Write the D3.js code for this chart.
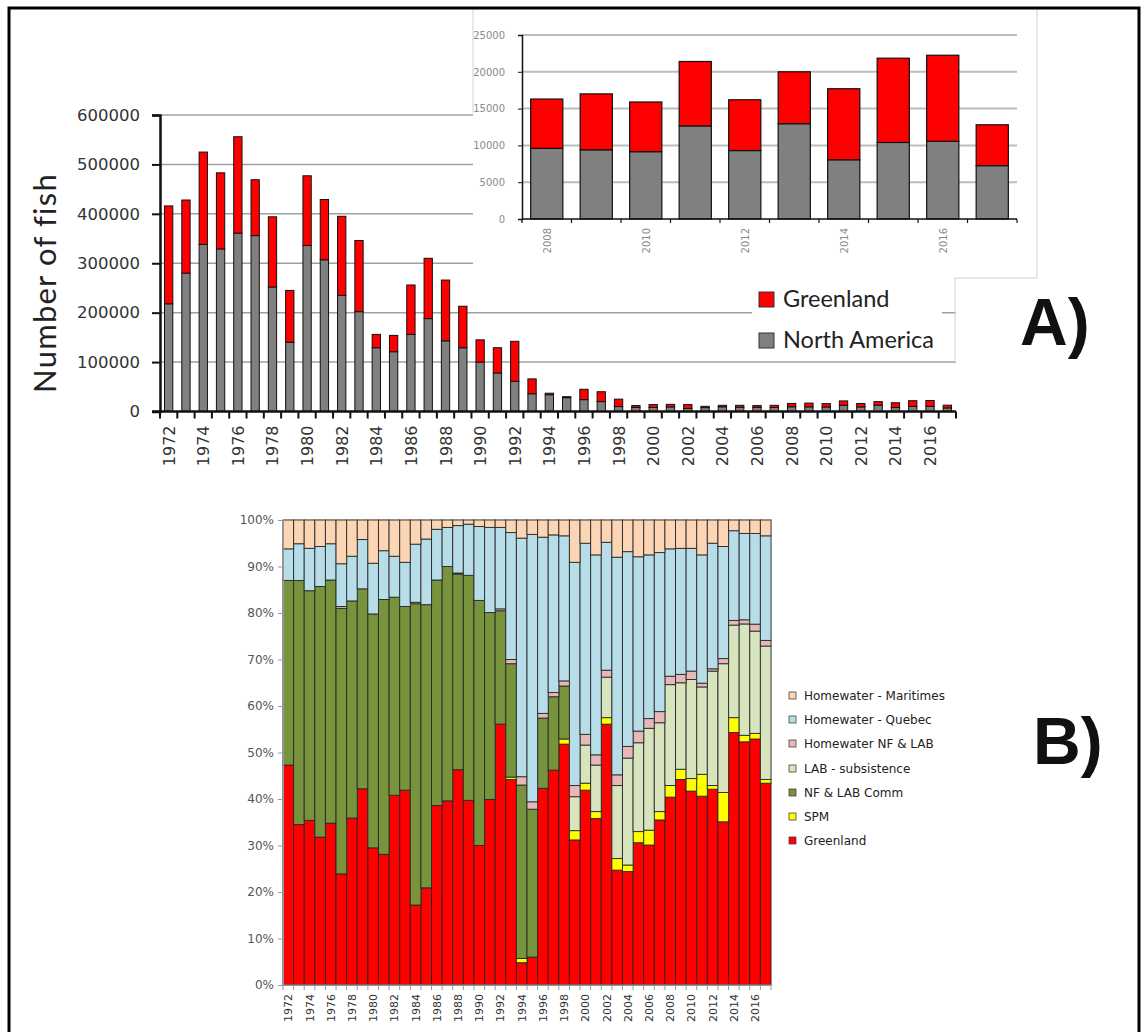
<!DOCTYPE html>
<html><head><meta charset="utf-8">
<script src="https://cdn.jsdelivr.net/npm/d3@7"></script>
<style>body{margin:0;background:#fff}svg{display:block}</style>
</head><body>
<svg id="c" width="1147" height="1032"></svg>
<script>
// ---------- DATA ----------
const years = ["1972","1973","1974","1975","1976","1977","1978","1979","1980","1981","1982","1983","1984","1985","1986","1987","1988","1989","1990","1991","1992","1993","1994","1995","1996","1997","1998","1999","2000","2001","2002","2003","2004","2005","2006","2007","2008","2009","2010","2011","2012","2013","2014","2015","2016","2017"];

// Panel A: number of fish
const northAmerica = [218000,280000,338000,329000,361000,356000,252000,140000,336000,307000,235000,202000,129000,121000,156000,188000,143000,129000,100000,78000,61000,36000,34000,28000,24000,20000,10000,8300,8100,9300,6200,7900,9500,8700,8400,8100,9600,9400,9150,12650,9300,12950,8050,10400,10550,7250];
const greenland = [198000,148000,187000,154000,195000,113000,142000,105000,141000,122000,160000,144000,27000,33000,100000,122000,123000,84000,45000,51000,81000,30000,3000,2000,21000,20000,15000,3700,5900,5200,7800,2600,3000,3800,3600,4400,6700,7600,6750,8750,6900,7050,9650,11450,11700,5550];
const yTicksA = [0,100000,200000,300000,400000,500000,600000];
const yTicksInset = [0,5000,10000,15000,20000,25000];
const insetYears = years.slice(36);
const insetLabelYears = ["2008","2010","2012","2014","2016"];

// Panel B: percentage composition
const pGreenland = [47.3,34.5,35.4,31.8,34.8,23.9,35.9,42.2,29.5,28.1,40.8,41.9,17.2,20.9,38.6,39.6,46.3,39.7,30.0,39.9,56.1,44.2,4.8,6.0,42.3,46.2,51.8,31.2,41.9,35.8,56.1,24.7,24.4,30.6,30.1,35.5,40.4,44.2,41.7,40.6,42.1,35.1,54.3,52.4,52.9,43.4];
const pSPM = [0,0,0,0,0,0,0,0,0,0,0,0,0,0,0,0,0,0,0,0,0,0.5,0.9,0,0,0,1.1,2.0,1.5,1.5,1.4,2.5,1.4,2.4,3.2,1.8,2.5,2.2,2.7,4.7,0.8,6.3,3.2,1.4,1.2,0.8];
const pComm = [39.7,52.5,49.4,53.9,52.3,57.1,46.7,43.0,50.3,54.8,42.6,39.5,64.8,60.9,48.5,50.4,42.1,48.4,52.7,40.2,24.4,24.4,37.3,31.8,15.1,15.8,11.4,0,0,0,0,0,0,0,0,0,0,0,0,0,0,0,0,0,0,0];
const pLabSub = [0,0,0,0,0,0,0,0,0,0,0,0,0,0,0,0,0,0,0,0,0,0,0,0,0,0,0,7.3,8.2,10.0,8.7,15.7,23.0,19.1,21.9,19.1,21.7,18.6,21.3,18.8,24.6,27.7,19.9,24.0,22.0,28.7];
const pHwNfLab = [0,0,0,0,0,0.4,0,0,0,0,0,0,0.3,0,0,0,0.2,0,0,0,0.4,0.9,1.8,1.6,1.0,0.9,1.1,2.4,2.3,2.2,1.5,2.3,2.5,2.5,2.1,2.4,1.8,1.8,1.8,0.8,0.5,1.1,1.0,0.9,1.5,1.2];
const pQuebec = [6.8,7.9,9.1,8.6,7.8,9.2,9.6,10.6,10.9,10.5,8.8,9.5,12.5,14.1,10.9,8.4,10.2,11.0,15.9,18.3,17.5,27.3,51.3,57.5,37.9,33.9,31.2,48.0,41.1,43.0,27.5,46.8,41.9,37.5,35.2,34.2,27.4,27.1,26.4,27.6,27.0,24.1,19.3,18.6,19.5,22.5];
const pMaritimes = [6.2,5.1,6.1,5.7,5.1,9.4,7.8,4.2,9.3,6.6,7.8,9.1,5.2,4.1,2.0,1.6,1.2,0.9,1.4,1.6,1.6,2.7,3.9,3.1,3.7,3.2,3.4,9.1,5.0,7.5,4.8,8.0,6.8,7.9,7.5,7.0,6.2,6.1,6.1,7.5,5.0,5.7,2.3,2.9,2.9,3.4];
const seriesB = ["Greenland","SPM","NF & LAB Comm","LAB - subsistence","Homewater NF & LAB","Homewater - Quebec","Homewater - Maritimes"];
const yTicksB = [0,0.1,0.2,0.3,0.4,0.5,0.6,0.7,0.8,0.9,1.0];

// ---------- DRAW ----------
const svg = d3.select("#c");
svg.append("rect").attr("width",1147).attr("height",1032).attr("fill","#fff");

// ===== Panel A =====
const xA = d3.scaleBand().domain(years).range([160,956]).paddingInner(0.52).paddingOuter(0.26);
const yA = d3.scaleLinear().domain([0,600000]).range([411.5,115]);
const gA = svg.append("g");
gA.selectAll("line.g").data(yTicksA.filter(d=>d>0)).join("line")
  .attr("x1",160).attr("x2",d=>d>=300000?473:956)
  .attr("y1",d=>yA(d)).attr("y2",d=>yA(d))
  .attr("stroke","#a0a0a0").attr("stroke-width",1.5);

gA.append("rect").attr("x",752).attr("y",284).attr("width",190).attr("height",72).attr("fill","#fff");
gA.append("line").attr("x1",955).attr("x2",955).attr("y1",278).attr("y2",362).attr("stroke","#d0d0d0");

const dataA = years.map((y,i)=>({year:y, na:northAmerica[i], gr:greenland[i]}));
const stackA = d3.stack().keys(["na","gr"])(dataA);
const colA = {na:"#808080", gr:"#ff0000"};
gA.selectAll("g.s").data(stackA).join("g").attr("fill",d=>colA[d.key])
  .selectAll("rect").data(d=>d).join("rect")
  .attr("x",d=>xA(d.data.year)).attr("width",xA.bandwidth())
  .attr("y",d=>yA(d[1])).attr("height",d=>yA(d[0])-yA(d[1]))
  .attr("stroke","#111").attr("stroke-width",1);

const axYA = gA.append("g").attr("transform","translate(160,0)")
  .call(d3.axisLeft(yA).tickValues(yTicksA).tickFormat(d3.format("d")).tickSize(8).tickPadding(12));
axYA.select(".domain").attr("stroke","#111").attr("stroke-width",2.5);
axYA.selectAll(".tick line").attr("stroke","#111").attr("stroke-width",2);
axYA.selectAll("text").attr("font-family","DejaVu Sans").attr("font-size",16.5).attr("fill","#333");

const axXA = gA.append("g").attr("transform","translate(0,411.5)");
axXA.append("line").attr("x1",152).attr("x2",956).attr("y1",0).attr("y2",0).attr("stroke","#111").attr("stroke-width",2.5);
axXA.selectAll("line.t").data(years.concat(["end"])).join("line")
  .attr("x1",(d,i)=>i<years.length?xA(d)-xA.step()*xA.paddingInner()/2:956)
  .attr("x2",(d,i)=>i<years.length?xA(d)-xA.step()*xA.paddingInner()/2:956)
  .attr("y1",0).attr("y2",7).attr("stroke","#111").attr("stroke-width",2);
axXA.selectAll("text").data(years.filter((d,i)=>i%2===0)).join("text")
  .attr("transform",d=>`translate(${xA(d)+xA.bandwidth()/2+6},14) rotate(-90)`)
  .attr("text-anchor","end").attr("font-family","DejaVu Sans").attr("font-size",16).attr("fill","#333")
  .text(d=>d);

svg.append("text").attr("transform","translate(56,283) rotate(-90)")
  .attr("text-anchor","middle").attr("font-family","Lato").attr("font-size",31).attr("fill","#222")
  .attr("letter-spacing",1.2).style("font-variant-ligatures","none")
  .text("Number of fish");

const legA = [["Greenland","#ff0000",292],["North America","#808080",333]];
legA.forEach(([t,c,y])=>{
  svg.append("rect").attr("x",759).attr("y",y).attr("width",15).attr("height",15).attr("fill",c).attr("stroke","#333");
  svg.append("text").attr("x",783).attr("y",y+15).attr("font-family","Lato").attr("font-size",23.5).attr("fill","#222").text(t);
});

// ===== Inset =====
const gI = svg.append("g");
gI.append("rect").attr("x",473).attr("y",9).attr("width",564).attr("height",269).attr("fill","#fff");
gI.append("line").attr("x1",473).attr("x2",473).attr("y1",9).attr("y2",113).attr("stroke","#d0d0d0");
gI.append("line").attr("x1",1037).attr("x2",1037).attr("y1",9).attr("y2",278).attr("stroke","#d0d0d0");
gI.append("line").attr("x1",955).attr("x2",1037).attr("y1",278).attr("y2",278).attr("stroke","#d0d0d0");
const xI = d3.scaleBand().domain(insetYears).range([522,1017]).paddingInner(0.35).paddingOuter(0.175);
const yI = d3.scaleLinear().domain([0,25000]).range([219,35]);
gI.selectAll("line.g").data(yTicksInset.filter(d=>d>0)).join("line")
  .attr("x1",522).attr("x2",1017).attr("y1",d=>yI(d)).attr("y2",d=>yI(d))
  .attr("stroke","#bdbdbd").attr("stroke-width",2);
const dataI = dataA.slice(36);
const stackI = d3.stack().keys(["na","gr"])(dataI);
gI.selectAll("g.s").data(stackI).join("g").attr("fill",d=>colA[d.key])
  .selectAll("rect").data(d=>d).join("rect")
  .attr("x",d=>xI(d.data.year)).attr("width",xI.bandwidth())
  .attr("y",d=>yI(d[1])).attr("height",d=>yI(d[0])-yI(d[1]))
  .attr("stroke","#111").attr("stroke-width",1.2);
const axYI = gI.append("g").attr("transform","translate(522,0)")
  .call(d3.axisLeft(yI).tickValues(yTicksInset).tickFormat(d3.format("d")).tickSize(4).tickPadding(13));
axYI.select(".domain").attr("stroke","#111").attr("stroke-width",1.5);
axYI.selectAll(".tick line").attr("stroke","#111");
axYI.selectAll("text").attr("font-family","DejaVu Sans").attr("font-size",10).attr("fill","#8a8a8a");
const axXI = gI.append("g").attr("transform","translate(0,219)");
axXI.append("line").attr("x1",522).attr("x2",1017).attr("stroke","#111").attr("stroke-width",1.5);
axXI.selectAll("line.t").data(insetYears.concat(["end"])).join("line")
  .attr("x1",(d,i)=>i<insetYears.length?xI(d)-xI.step()*xI.paddingInner()/2:1017)
  .attr("x2",(d,i)=>i<insetYears.length?xI(d)-xI.step()*xI.paddingInner()/2:1017)
  .attr("y1",0).attr("y2",4).attr("stroke","#111").attr("stroke-width",1.2);
axXI.selectAll("text").data(insetLabelYears).join("text")
  .attr("transform",d=>`translate(${xI(d)+xI.bandwidth()/2+4},9) rotate(-90)`)
  .attr("text-anchor","end").attr("font-family","DejaVu Sans").attr("font-size",10).attr("fill","#8a8a8a")
  .text(d=>d);

// ===== Panel B =====
const gB = svg.append("g");
const xB = d3.scaleBand().domain(years).range([283,771]).padding(0);
const yB = d3.scaleLinear().domain([0,1]).range([985,520]);
const dataB = years.map((y,i)=>({year:y,
  "Greenland":pGreenland[i],"SPM":pSPM[i],"NF & LAB Comm":pComm[i],"LAB - subsistence":pLabSub[i],
  "Homewater NF & LAB":pHwNfLab[i],"Homewater - Quebec":pQuebec[i],"Homewater - Maritimes":pMaritimes[i]}));
const colB = {"Greenland":"#ff0000","SPM":"#ffff00","NF & LAB Comm":"#77933c","LAB - subsistence":"#d7e4bd",
  "Homewater NF & LAB":"#e6b9b8","Homewater - Quebec":"#b7dee8","Homewater - Maritimes":"#fcd5b5"};
const stackB = d3.stack().keys(seriesB).offset(d3.stackOffsetExpand)(dataB);
gB.append("rect").attr("x",283).attr("y",520).attr("width",488).attr("height",465).attr("fill","none").attr("stroke","#c8c8c8");
gB.selectAll("g.s").data(stackB).join("g").attr("fill",d=>colB[d.key])
  .selectAll("rect").data(d=>d.filter(e=>e[1]-e[0]>0)).join("rect")
  .attr("x",d=>xB(d.data.year)).attr("width",xB.bandwidth())
  .attr("y",d=>yB(d[1])).attr("height",d=>yB(d[0])-yB(d[1]))
  .attr("stroke","#222").attr("stroke-width",1).attr("stroke-opacity",0.85);
const axYB = gB.append("g").attr("transform","translate(283,0)")
  .call(d3.axisLeft(yB).tickValues(yTicksB).tickFormat(d3.format(".0%")).tickSize(5).tickPadding(4));
axYB.select(".domain").attr("stroke","#999");
axYB.selectAll(".tick line").attr("stroke","#999");
axYB.selectAll("text").attr("font-family","DejaVu Sans").attr("font-size",12).attr("fill","#555");
const axXB = gB.append("g").attr("transform","translate(0,985)");
axXB.append("line").attr("x1",283).attr("x2",771).attr("stroke","#999");
axXB.selectAll("line.t").data(years.concat(["end"])).join("line")
  .attr("x1",(d,i)=>i<years.length?xB(d):771).attr("x2",(d,i)=>i<years.length?xB(d):771)
  .attr("y1",0).attr("y2",5).attr("stroke","#999");
axXB.selectAll("text").data(years.filter((d,i)=>i%2===0)).join("text")
  .attr("transform",d=>`translate(${xB(d)+xB.bandwidth()/2+4},9) rotate(-90)`)
  .attr("text-anchor","end").attr("font-family","DejaVu Sans").attr("font-size",11).attr("fill","#333")
  .text(d=>d);

const legB = seriesB.slice().reverse();
const legY = [696,720,744,769,793,817,841];
legB.forEach((k,i)=>{
  svg.append("rect").attr("x",789).attr("y",legY[i]-4).attr("width",7).attr("height",7)
    .attr("fill",colB[k]).attr("stroke","#444").attr("stroke-width",0.8);
  svg.append("text").attr("x",804).attr("y",legY[i]+4).attr("font-family","DejaVu Sans").attr("font-size",12)
    .attr("fill","#222").text(k);
});

svg.append("text").attr("x",1020).attr("y",345).attr("font-family","Liberation Sans").attr("font-weight","bold")
  .attr("font-size",66).attr("fill","#111").text("A)");
svg.append("text").attr("x",1033).attr("y",764).attr("font-family","Liberation Sans").attr("font-weight","bold")
  .attr("font-size",66).attr("fill","#111").text("B)");

svg.append("rect").attr("x",9).attr("y",8).attr("width",1130).attr("height",1040)
  .attr("fill","none").attr("stroke","#000").attr("stroke-width",3);
</script>
</body></html>
